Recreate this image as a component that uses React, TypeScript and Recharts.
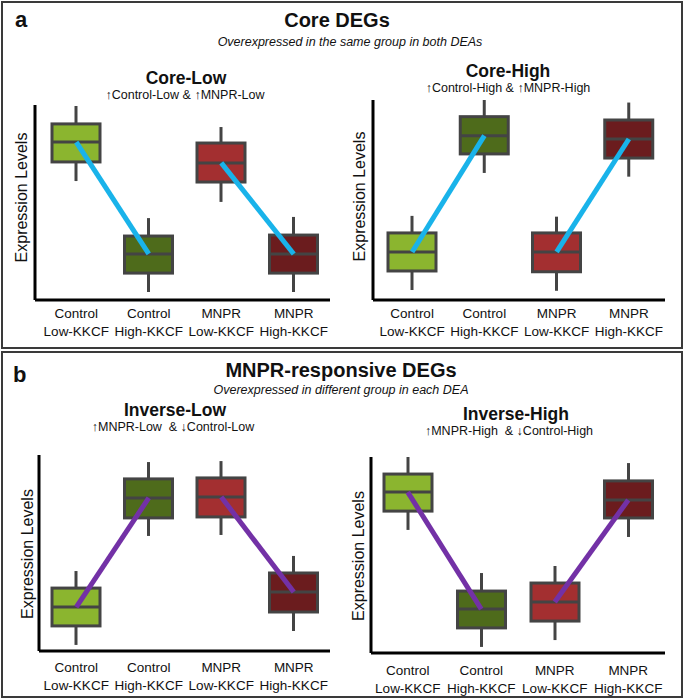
import React from "react";
import { ComposedChart, Bar, Line, XAxis, YAxis } from "recharts";

const FONT = "'Liberation Sans', Arial, sans-serif";

const groups = [
  "Control\nLow-KKCF",
  "Control\nHigh-KKCF",
  "MNPR\nLow-KKCF",
  "MNPR\nHigh-KKCF",
];
const boxColors = ["#8bb52f", "#4e6b1b", "#a32f30", "#6b1c1e"];

// each box: [whisker low, q1, median, q3, whisker high]
const coreLow = [
  [61, 70.8, 81, 90.3, 99.5],
  [4.1, 13.8, 23.6, 32.8, 42],
  [50.3, 60.5, 70.3, 80.5, 88.7],
  [4.1, 13.8, 23.6, 33.3, 42.6],
];
const coreHigh = [
  [5.1, 14.8, 24.5, 34.2, 42.9],
  [64.8, 74.5, 83.8, 93.5, 102],
  [4.7, 14.4, 24.5, 34.2, 42.5],
  [62.9, 72.4, 82.1, 91.8, 100.7],
];
const inverseLow = [
  [3.1, 12.8, 22.4, 32.1, 40.8],
  [58.7, 67.9, 78.1, 87.8, 96.4],
  [59.2, 68.4, 78.6, 88.3, 96.9],
  [10.2, 19.9, 30.1, 39.8, 48.5],
];
const inverseHigh = [
  [62.8, 72.4, 82.1, 91.3, 100],
  [3.1, 12.8, 22.4, 31.6, 40.8],
  [6.6, 16.3, 26, 35.7, 44.4],
  [59.2, 68.9, 78.1, 87.8, 96.9],
];

const buildRows = (boxes: number[][]) =>
  boxes.map((b, i) => ({
    group: groups[i],
    range: [b[0], b[4]],
    lo: b[0],
    q1: b[1],
    median: b[2],
    q3: b[3],
    hi: b[4],
    color: boxColors[i],
    left: i < 2 ? b[2] : null,
    right: i >= 2 ? b[2] : null,
  }));

// whisker + box + median, mapped from the bar's pixel range
const BoxShape = (props: any) => {
  const { x, y, width, height, payload } = props;
  const top = Math.min(y, y + height);
  const h = Math.abs(height);
  const span = payload.hi - payload.lo;
  const py = (v: number) => top + (h * (payload.hi - v)) / span;
  const cx = x + width / 2;
  return (
    <g>
      <line x1={cx} x2={cx} y1={py(payload.hi)} y2={py(payload.lo)} stroke="#444" strokeWidth={3} />
      <rect
        x={x}
        y={py(payload.q3)}
        width={width}
        height={py(payload.q1) - py(payload.q3)}
        fill={payload.color}
        stroke="#444"
        strokeWidth={3}
      />
      <line x1={x} x2={x + width} y1={py(payload.median)} y2={py(payload.median)} stroke="#444" strokeWidth={3} />
    </g>
  );
};

const GroupTick = (props: any) => {
  const { x, y, payload, d1, d2 } = props;
  const [a, b] = String(payload.value).split("\n");
  return (
    <text x={x} y={y} textAnchor="middle" fontSize={13.5} fill="#111" fontFamily={FONT}>
      <tspan x={x} dy={d1}>{a}</tspan>
      <tspan x={x} dy={d2 - d1}>{b}</tspan>
    </text>
  );
};

type PanelCfg = {
  boxes: number[][];
  left: number;
  top: number;
  width: number;
  mTop: number;
  yW: number;
  padLeft: number;
  xH: number;
  yTop: number;
  tickD: [number, number];
  label: [number, number];
  lineColor: string;
};

const BoxPanel = ({ cfg }: { cfg: PanelCfg }) => {
  const data = buildRows(cfg.boxes);
  const [lx, ly] = cfg.label;
  return (
    <div style={{ position: "absolute", left: cfg.left, top: cfg.top }}>
      <ComposedChart
        width={cfg.width}
        height={260}
        data={data}
        margin={{ top: cfg.mTop, right: 10, left: 0, bottom: 0 }}
      >
        <XAxis
          dataKey="group"
          type="category"
          height={cfg.xH}
          padding={{ left: cfg.padLeft, right: 0 }}
          tickLine={false}
          tickSize={0}
          tickMargin={0}
          interval={0}
          axisLine={{ stroke: "#000", strokeWidth: 3 }}
          tick={(p: any) => <GroupTick {...p} d1={cfg.tickD[0]} d2={cfg.tickD[1]} />}
        />
        <YAxis
          type="number"
          domain={[0, cfg.yTop]}
          width={cfg.yW}
          tick={false}
          tickLine={false}
          axisLine={{ stroke: "#000", strokeWidth: 3 }}
          label={{
            content: () => (
              <text
                x={lx}
                y={ly}
                transform={`rotate(-90 ${lx} ${ly})`}
                textAnchor="middle"
                dominantBaseline="central"
                fontSize={16}
                fill="#111"
                fontFamily={FONT}
              >
                Expression Levels
              </text>
            ),
          }}
        />
        <Bar dataKey="range" barSize={48} shape={<BoxShape />} isAnimationActive={false} />
        <Line dataKey="left" stroke={cfg.lineColor} strokeWidth={5} dot={false} activeDot={false} connectNulls={false} isAnimationActive={false} />
        <Line dataKey="right" stroke={cfg.lineColor} strokeWidth={5} dot={false} activeDot={false} connectNulls={false} isAnimationActive={false} />
      </ComposedChart>
    </div>
  );
};

const BLUE = "#19b3ea";
const PURPLE = "#7331a6";

const panels: PanelCfg[] = [
  { boxes: coreLow, left: 0, top: 90, width: 340, mTop: 15, yW: 35, padLeft: 5, xH: 50, yTop: 100, tickD: [18, 36], label: [21, 107.5], lineColor: BLUE },
  { boxes: coreHigh, left: 340, top: 90, width: 335, mTop: 10, yW: 33, padLeft: 3, xH: 50, yTop: 102, tickD: [18, 36], label: [19, 106.5], lineColor: BLUE },
  { boxes: inverseLow, left: 0, top: 440, width: 340, mTop: 15, yW: 39, padLeft: 1, xH: 49, yTop: 100, tickD: [21, 39], label: [27, 114], lineColor: PURPLE },
  { boxes: inverseHigh, left: 340, top: 440, width: 335, mTop: 17, yW: 31, padLeft: 0, xH: 47, yTop: 100, tickD: [22, 40], label: [18, 116], lineColor: PURPLE },
];

const T = (p: any) => (
  <text
    x={p.x}
    y={p.y}
    textAnchor={p.anchor || "middle"}
    fontSize={p.size}
    fontWeight={p.bold ? "bold" : "normal"}
    fontStyle={p.italic ? "italic" : "normal"}
    fill="#111"
    fontFamily={FONT}
    style={{ whiteSpace: "pre" }}
  >
    {p.children}
  </text>
);

export default function App() {
  return (
    <div
      style={{
        position: "absolute",
        left: 0,
        top: 0,
        width: 685,
        height: 700,
        background: "#fff",
        overflow: "hidden",
      }}
    >
      <div style={{ position: "absolute", left: 1, top: 1, width: 682, height: 348, boxSizing: "border-box", border: "2px solid #3a3a3a" }} />
      <div style={{ position: "absolute", left: 1, top: 351, width: 682, height: 347, boxSizing: "border-box", border: "2px solid #3a3a3a" }} />
      <svg width={685} height={700} style={{ position: "absolute", left: 0, top: 0 }}>
        <T x={15} y={27} size={22} bold anchor="start">a</T>
        <T x={337} y={27} size={20} bold>Core DEGs</T>
        <T x={350} y={46} size={12.5} italic>Overexpressed in the same group in both DEAs</T>
        <T x={186} y={84} size={17.5} bold>Core-Low</T>
        <T x={185} y={98.5} size={12.5}>↑Control-Low &amp; ↑MNPR-Low</T>
        <T x={508} y={76.5} size={17.5} bold>Core-High</T>
        <T x={508} y={92} size={12.5}>↑Control-High &amp; ↑MNPR-High</T>

        <T x={13} y={382} size={22} bold anchor="start">b</T>
        <T x={341} y={377} size={20} bold>MNPR-responsive DEGs</T>
        <T x={341} y={394} size={12.5} italic>Overexpressed in different group in each DEA</T>
        <T x={175} y={416} size={17.5} bold>Inverse-Low</T>
        <T x={173} y={431} size={12.5}>{"↑MNPR-Low  & ↓Control-Low"}</T>
        <T x={516} y={419.5} size={17.5} bold>Inverse-High</T>
        <T x={509} y={434.5} size={12.5}>{"↑MNPR-High  & ↓Control-High"}</T>
      </svg>
      {panels.map((cfg, i) => (
        <BoxPanel key={i} cfg={cfg} />
      ))}
    </div>
  );
}
